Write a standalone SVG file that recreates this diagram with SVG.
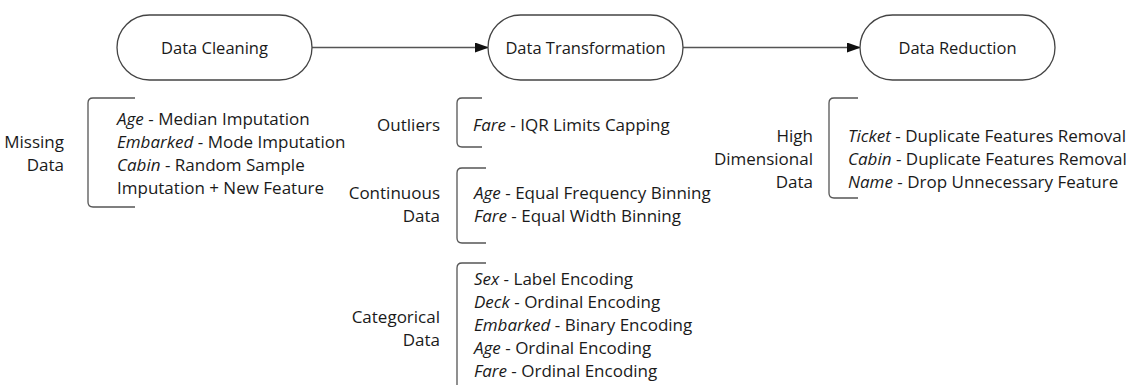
<svg xmlns="http://www.w3.org/2000/svg" width="1131" height="385" viewBox="0 0 1131 385">
<style>
text{font-family:"Open Sans","Noto Sans",sans-serif;font-size:17px;fill:#1a1a1a}
.node{fill:#fff;stroke:#444;stroke-width:1.3}
.nl{text-anchor:middle;font-size:16.5px}
.cat{text-anchor:end}
.br{fill:none;stroke:#555;stroke-width:1.3}
.conn{stroke:#555;stroke-width:1.5;fill:none}
.i{font-style:italic}
</style>
<defs>
<marker id="arr" markerWidth="14" markerHeight="10" refX="13" refY="5" orient="auto" markerUnits="userSpaceOnUse">
<path d="M0,0 L14,5 L0,10 Z" fill="#111"/>
</marker>
</defs>
<g id="connectors">
<line class="conn" x1="312" y1="47.5" x2="488" y2="47.5" marker-end="url(#arr)"/>
<line class="conn" x1="683" y1="47.5" x2="860" y2="47.5" marker-end="url(#arr)"/>
</g>
<g id="node-cleaning">
<rect class="node" x="117" y="15" width="195" height="65" rx="32.5"/>
<text class="nl" x="214.5" y="54">Data Cleaning</text>
</g>
<g id="node-transformation">
<rect class="node" x="488" y="15" width="195" height="65" rx="32.5"/>
<text class="nl" x="585.5" y="54">Data Transformation</text>
</g>
<g id="node-reduction">
<rect class="node" x="860" y="15" width="195" height="65" rx="32.5"/>
<text class="nl" x="957.5" y="54">Data Reduction</text>
</g>
<g id="missing-data">
<path class="br" d="M135,98 H93 Q88,98 88,103 V202 Q88,207 93,207 H135"/>
<text class="cat" x="64" y="148">Missing</text>
<text class="cat" x="64" y="171">Data</text>
<text x="117" y="125"><tspan class="i">Age</tspan> - Median Imputation</text>
<text x="117" y="148"><tspan class="i">Embarked</tspan> - Mode Imputation</text>
<text x="117" y="171"><tspan class="i">Cabin</tspan> - Random Sample</text>
<text x="117" y="194">Imputation + New Feature</text>
</g>
<g id="outliers">
<path class="br" d="M482,98 H462 Q457,98 457,103 V142 Q457,147 462,147 H482"/>
<text class="cat" x="440" y="131">Outliers</text>
<text x="473" y="131"><tspan class="i">Fare</tspan> - IQR Limits Capping</text>
</g>
<g id="continuous-data">
<path class="br" d="M486,168 H462 Q457,168 457,173 V238 Q457,243 462,243 H486"/>
<text class="cat" x="440" y="199">Continuous</text>
<text class="cat" x="440" y="222">Data</text>
<text x="474" y="199"><tspan class="i">Age</tspan> - Equal Frequency Binning</text>
<text x="474" y="222"><tspan class="i">Fare</tspan> - Equal Width Binning</text>
</g>
<g id="categorical-data">
<path class="br" d="M486,263 H462 Q457,263 457,268 V390"/>
<text class="cat" x="440" y="323">Categorical</text>
<text class="cat" x="440" y="346">Data</text>
<text x="474" y="285"><tspan class="i">Sex</tspan> - Label Encoding</text>
<text x="474" y="308"><tspan class="i">Deck</tspan> - Ordinal Encoding</text>
<text x="474" y="331"><tspan class="i">Embarked</tspan> - Binary Encoding</text>
<text x="474" y="354"><tspan class="i">Age</tspan> - Ordinal Encoding</text>
<text x="474" y="377"><tspan class="i">Fare</tspan> - Ordinal Encoding</text>
</g>
<g id="high-dimensional-data">
<path class="br" d="M858,98 H834 Q829,98 829,103 V193 Q829,198 834,198 H858"/>
<text class="cat" x="813" y="142">High</text>
<text class="cat" x="813" y="165">Dimensional</text>
<text class="cat" x="813" y="188">Data</text>
<text x="848" y="142"><tspan class="i">Ticket</tspan> - Duplicate Features Removal</text>
<text x="848" y="165"><tspan class="i">Cabin</tspan> - Duplicate Features Removal</text>
<text x="848" y="188"><tspan class="i">Name</tspan> - Drop Unnecessary Feature</text>
</g>
</svg>
